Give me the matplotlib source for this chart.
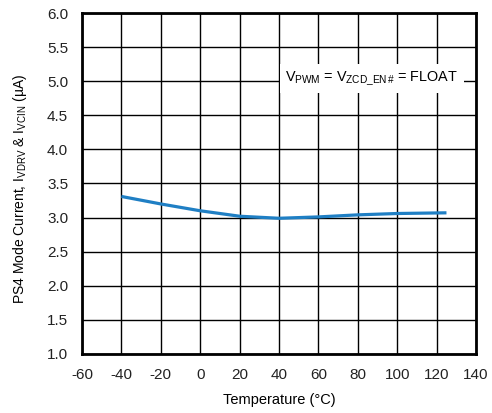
import numpy as np
import matplotlib.pyplot as plt

plt.rcParams['font.family'] = ['Liberation Sans', 'DejaVu Sans']
plt.rcParams['mathtext.fontset'] = 'custom'
plt.rcParams['mathtext.rm'] = 'Liberation Sans'
plt.rcParams['mathtext.it'] = 'Liberation Sans'
plt.rcParams['axes.unicode_minus'] = False

# PS4 mode supply current vs temperature
temp = [-40, -20, 0, 20, 40, 60, 80, 100, 125]
current = [3.31, 3.20, 3.10, 3.02, 2.99, 3.01, 3.04, 3.06, 3.07]

x_ticks = [-60, -40, -20, 0, 20, 40, 60, 80, 100, 120, 140]
y_ticks = [1.0, 1.5, 2.0, 2.5, 3.0, 3.5, 4.0, 4.5, 5.0, 5.5, 6.0]

fig = plt.figure(figsize=(4.92, 4.13), dpi=100)
ax = fig.add_axes([0.1667, 0.1429, 0.8008, 0.8256])

ax.plot(temp, current, color='#1f7fc4', lw=2.3, solid_capstyle='butt', zorder=3)

ax.set_xlim(-60, 140)
ax.set_ylim(1.0, 6.0)
ax.set_xticks(x_ticks)
ax.set_yticks(y_ticks)
ax.set_yticklabels(['%.1f' % v for v in y_ticks])
ax.grid(True, color='black', lw=1.0)
ax.set_axisbelow(True)
ax.tick_params(length=0, labelsize=11, pad=10, colors='#222222')
for s in ax.spines.values():
    s.set_linewidth(2)

ax.set_xlabel('Temperature (°C)', fontsize=10.5)
ax.xaxis.set_label_coords(0.5, -0.115)
ax.set_ylabel(r'PS4 Mode Current, I$_{\mathrm{VDRV}}$ & I$_{\mathrm{VCIN}}$ (µA)',
              fontsize=10)
ax.yaxis.set_label_coords(-0.135, 0.485)

ax.text(87, 5.04, r'V$_{\mathrm{PWM}}$ = V$_{\mathrm{ZCD\_EN\,\#}}$ = FLOAT',
        fontsize=10.4, ha='center', va='center', zorder=4,
        bbox=dict(facecolor='white', edgecolor='none', pad=4))

fig.savefig('out.png', dpi=100)
